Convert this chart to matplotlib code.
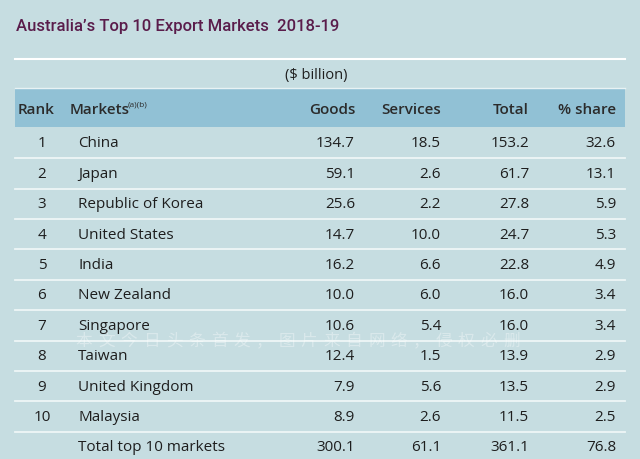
import matplotlib.pyplot as plt
from matplotlib.patches import Rectangle

plt.rcParams['font.family'] = ['Open Sans', 'Noto Sans CJK SC', 'DejaVu Sans']

title = "Australia\u2019s Top 10 Export Markets  2018-19"
ranks = ['1', '2', '3', '4', '5', '6', '7', '8', '9', '10']
markets = ['China', 'Japan', 'Republic of Korea', 'United States', 'India',
           'New Zealand', 'Singapore', 'Taiwan', 'United Kingdom', 'Malaysia']
goods = [134.7, 59.1, 25.6, 14.7, 16.2, 10.0, 10.6, 12.4, 7.9, 8.9]
services = [18.5, 2.6, 2.2, 10.0, 6.6, 6.0, 5.4, 1.5, 5.6, 2.6]
total = [153.2, 61.7, 27.8, 24.7, 22.8, 16.0, 16.0, 13.9, 13.5, 11.5]
share = [32.6, 13.1, 5.9, 5.3, 4.9, 3.4, 3.4, 2.9, 2.9, 2.5]
total_row = ['Total top 10 markets', 300.1, 61.1, 361.1, 76.8]
watermark = '本文今日头条首发，图片来自网络，侵权必删'

bg = '#c6dde1'
band = '#91c1d5'
txt = '#1e1e1e'

fig = plt.figure(figsize=(6.4, 4.6), dpi=100)
fig.patch.set_facecolor(bg)
ax = fig.add_axes([0, 0, 1, 1])
ax.set_xlim(0, 640)
ax.set_ylim(460, 0)
ax.axis('off')

ax.text(16, 26, title, fontsize=12, color='#5a1c4b', va='center', ha='left',
        family='Roboto', fontweight='medium')

# top rule and unit line
ax.plot([15, 625], [60, 60], color='white', lw=1.5)
ax.text(316, 76, '($ billion)', fontsize=10.5, color=txt, ha='center', va='center')

# header band
ax.add_patch(Rectangle((15, 90), 610, 38, color=band, lw=0))
ax.plot([15, 625], [89, 89], color='#e8f2f4', lw=1)
hdr = dict(fontsize=11, color='#2b2b2b', va='center', fontweight='semibold')
ax.text(36, 110, 'Rank', ha='center', **hdr)
ax.text(70, 110, 'Markets', ha='left', **hdr)
ax.text(128, 105, '(a)(b)', ha='left', fontsize=6, color='#2b2b2b', va='center')
col_x = [355, 441, 529, 616]
for x, h in zip(col_x, ['Goods', 'Services', 'Total', '% share']):
    ax.text(x, 110, h, ha='right', **hdr)

row_h = 30.4
y0 = 144
for i in range(len(markets)):
    y = y0 + i * row_h
    ax.text(42, y, ranks[i], ha='center', va='center', fontsize=11, color=txt)
    ax.text(78, y, markets[i], ha='left', va='center', fontsize=11, color=txt)
    for x, v in zip(col_x, [goods[i], services[i], total[i], share[i]]):
        ax.text(x, y, f'{v:.1f}', ha='right', va='center', fontsize=11, color=txt)
    ax.plot([15, 625], [y + row_h / 2, y + row_h / 2], color='#eef6f7', lw=1.3)

y = y0 + len(markets) * row_h
ax.text(78, y, total_row[0], ha='left', va='center', fontsize=11, color=txt)
for x, v in zip(col_x, total_row[1:]):
    ax.text(x, y, f'{v:.1f}', ha='right', va='center', fontsize=11, color=txt)

# faint watermark, characters spread out across the row divider
for k, ch in enumerate(watermark):
    ax.text(84 + k * 22.5, 342, ch, ha='center', va='center', fontsize=12,
            color='white', alpha=0.35)

fig.savefig('out.png', dpi=100, facecolor=bg)
